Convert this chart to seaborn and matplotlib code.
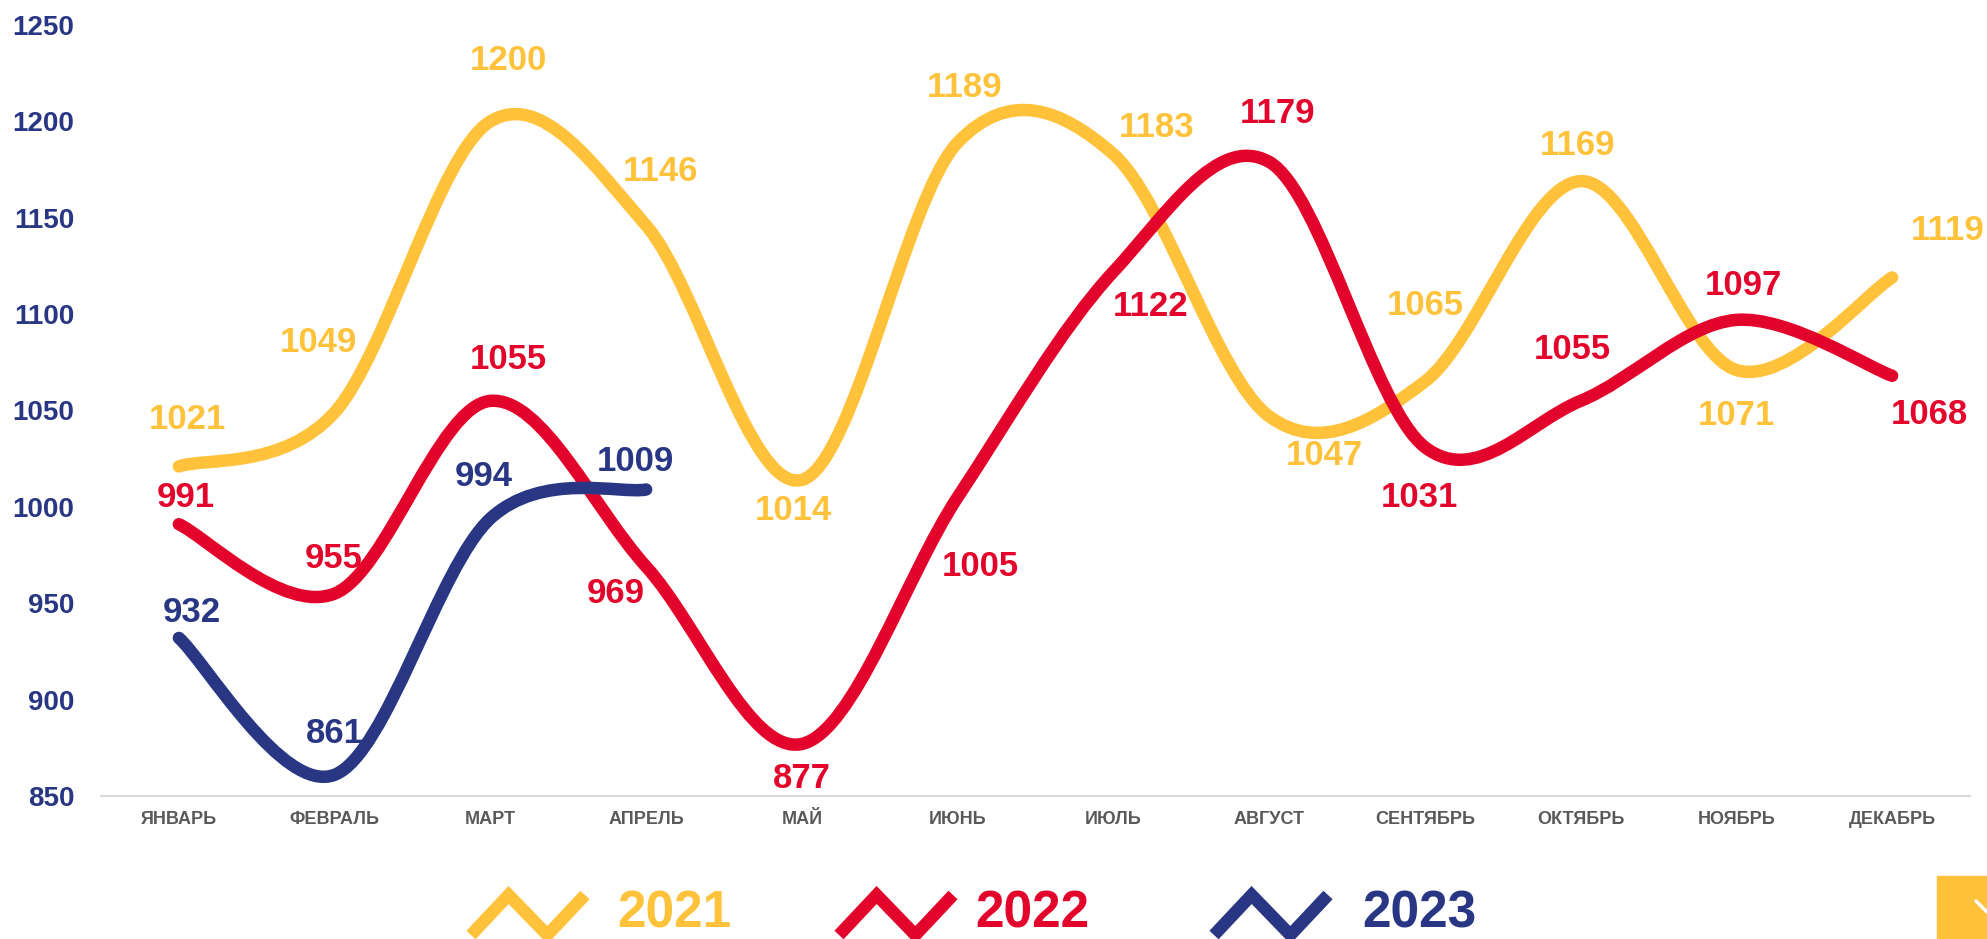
import matplotlib.pyplot as plt
import seaborn as sns
from matplotlib.path import Path
from matplotlib.patches import PathPatch, Rectangle
from matplotlib.lines import Line2D

# Data
months = ["ЯНВАРЬ", "ФЕВРАЛЬ", "МАРТ", "АПРЕЛЬ", "МАЙ", "ИЮНЬ",
          "ИЮЛЬ", "АВГУСТ", "СЕНТЯБРЬ", "ОКТЯБРЬ", "НОЯБРЬ", "ДЕКАБРЬ"]
y2021 = [1021, 1049, 1200, 1146, 1014, 1189, 1183, 1047, 1065, 1169, 1071, 1119]
y2022 = [991, 955, 1055, 969, 877, 1005, 1122, 1179, 1031, 1055, 1097, 1068]
y2023 = [932, 861, 994, 1009]

# label offsets (points) per point
off2021 = [(6, 34), (-12, 50), (13, 44), (10, 39), (-6, -22), (5, 40),
           (31, 19), (40, -28), (0, 55), (-2, 26), (0, -33), (40, 34)]
off2022 = [(5, 19), (-1, 25), (13, 30), (-22, -19), (0, -25), (16, -50),
           (27, -25), (6, 35), (-4, -36), (-6, 37), (5, 25), (27, -28)]
off2023 = [(9, 18), (0, 30), (-5, 30), (-8, 20)]

YELLOW = "#FFC23A"
RED = "#E3042B"
NAVY = "#283684"

sns.set_theme(style="white")
plt.rcParams['font.family'] = ['Liberation Sans', 'DejaVu Sans']

W, H = 1987, 939
fig = plt.figure(figsize=(W / 100, H / 100), dpi=100)
ax = fig.add_axes([101 / W, 1 - 796 / H, (1970 - 101) / W, (796 - 25) / H])


def smooth_path(vals):
    # Excel-style smoothed line: cubic Bezier with Catmull-Rom control points
    pts = list(enumerate(vals))
    n = len(pts)
    verts = [pts[0]]
    codes = [Path.MOVETO]
    for i in range(n - 1):
        p0 = pts[max(i - 1, 0)]
        p1 = pts[i]
        p2 = pts[i + 1]
        p3 = pts[min(i + 2, n - 1)]
        c1 = (p1[0] + (p2[0] - p0[0]) / 6, p1[1] + (p2[1] - p0[1]) / 6)
        c2 = (p2[0] - (p3[0] - p1[0]) / 6, p2[1] - (p3[1] - p1[1]) / 6)
        verts += [c1, c2, p2]
        codes += [Path.CURVE4] * 3
    return Path(verts, codes)


series = [(y2021, off2021, YELLOW), (y2022, off2022, RED), (y2023, off2023, NAVY)]
for vals, offs, col in series:
    patch = PathPatch(smooth_path(vals), facecolor="none", edgecolor=col,
                      lw=9, capstyle="round", joinstyle="round", clip_on=False)
    ax.add_patch(patch)
    for i, (v, o) in enumerate(zip(vals, offs)):
        ax.annotate(str(v), (i, v), xytext=o, textcoords="offset points",
                    ha="center", va="center", fontsize=25, fontweight="bold",
                    color=col, annotation_clip=False)

ax.set_xlim(-0.5, 11.5)
ax.set_ylim(850, 1250)
ax.set_xticks(range(len(months)))
ax.set_xticklabels(months, fontsize=13, fontweight="bold", color="#595959")
ax.set_yticks(range(850, 1251, 50))
ax.set_yticklabels([str(v) for v in range(850, 1251, 50)], fontsize=20,
                   fontweight="bold", color=NAVY)
ax.tick_params(axis="x", length=0, pad=11)
ax.tick_params(axis="y", length=0, pad=19)
sns.despine(ax=ax, left=True)
ax.spines["bottom"].set_color("#D9D9D9")
ax.spines["bottom"].set_linewidth(1.5)
ax.grid(False)


# legend drawn in figure pixels
def fx(x):
    return x / W


def fy(y):
    return 1 - y / H


legend = [("2021", YELLOW, 471, 617), ("2022", RED, 839, 975), ("2023", NAVY, 1214, 1362)]
for label, col, x0, tx in legend:
    w = 114
    xs = [x0, x0 + 0.33 * w, x0 + 0.67 * w, x0 + w]
    ys = [935, 895, 935, 895]
    fig.add_artist(Line2D([fx(x) for x in xs], [fy(y) for y in ys], color=col,
                          lw=9, solid_capstyle="butt", solid_joinstyle="miter",
                          transform=fig.transFigure))
    fig.text(fx(tx), fy(914), label, color=col, fontsize=37, fontweight="bold",
             ha="left", va="center")

# yellow corner button
fig.add_artist(Rectangle((fx(1937), 0), fx(W) - fx(1937), fy(876), color=YELLOW,
                         transform=fig.transFigure))
fig.add_artist(Line2D([fx(1976), fx(1987)], [fy(901), fy(912)], color="white", lw=2.5,
                      transform=fig.transFigure))

fig.savefig("out.png", dpi=100)
